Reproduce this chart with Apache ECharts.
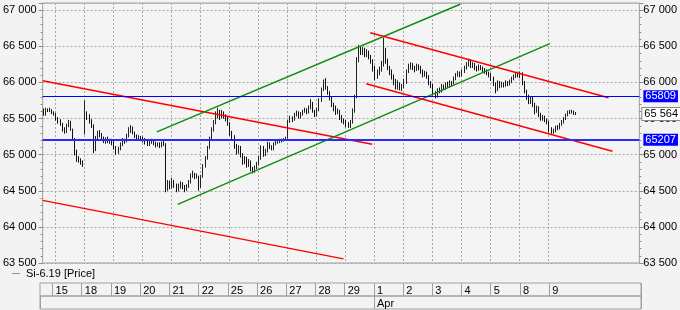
<!DOCTYPE html>
<html><head><meta charset="utf-8">
<script src="https://cdn.jsdelivr.net/npm/echarts@6/dist/echarts.min.js"></script>
<style>html,body{margin:0;padding:0;background:#f3f3f3}#c{width:680px;height:310px}</style>
</head><body><div id="c"></div>
<script>
// ---------- DATA ----------
const seriesName = 'Si-6.19 [Price]';
const sessionHours = ['10:00','11:00','12:00','13:00','14:00','15:00','16:00','17:00','18:00','19:00','20:00','21:00','22:00','23:00'];
const tradingDays = ['2019-03-14','2019-03-15','2019-03-18','2019-03-19','2019-03-20','2019-03-21','2019-03-22','2019-03-25','2019-03-26','2019-03-27','2019-03-28','2019-03-29','2019-04-01','2019-04-02','2019-04-03','2019-04-04','2019-04-05','2019-04-08','2019-04-09'];
const dayTickLabels = ['','15','18','19','20','21','22','25','26','27','28','29','1','2','3','4','5','8','9'];
const monthTickLabels = ['','','','','','','','','','','','','Apr','','','','','',''];
const futureSlots = 30;

// [open, close, low, high]
const mar14 = [[65600,65560,65540,65640],[65560,65620,65540,65650],[65620,65610,65590,65640],[65610,65620,65590,65650],[65620,65580,65560,65630],[65580,65560,65540,65600]];
const mar15 = [[65560,65500,65470,65580],[65500,65470,65430,65520],[65470,65420,65400,65490],[65420,65350,65320,65440],[65350,65310,65290,65380],[65310,65400,65300,65430],[65400,65460,65380,65480],[65460,65350,65330,65470],[65350,65220,65190,65360],[65220,65050,64990,65230],[65050,64950,64900,65070],[64950,64920,64890,64980],[64920,64900,64860,64950],[64900,64860,64830,64920]];
const mar18 = [[65300,65550,65280,65750],[65550,65520,65480,65600],[65520,65460,65430,65560],[65460,65400,65370,65490],[65400,65080,65020,65420],[65080,65230,65050,65260],[65230,65300,65200,65330],[65300,65270,65240,65340],[65270,65220,65190,65300],[65220,65200,65160,65250],[65200,65210,65150,65240],[65210,65190,65160,65250],[65190,65200,65150,65220],[65200,65170,65130,65220]];
const mar19 = [[65170,65100,65070,65190],[65100,65030,65000,65120],[65030,65080,65010,65110],[65080,65150,65060,65170],[65150,65200,65120,65230],[65200,65180,65150,65220],[65180,65260,65170,65290],[65260,65340,65240,65380],[65340,65380,65300,65410],[65380,65300,65280,65390],[65300,65260,65230,65320],[65260,65220,65190,65280],[65220,65250,65200,65270],[65250,65230,65200,65260]];
const mar20 = [[65230,65200,65170,65250],[65200,65180,65140,65230],[65180,65150,65120,65200],[65150,65170,65120,65190],[65170,65200,65150,65220],[65200,65160,65130,65210],[65160,65130,65100,65180],[65130,65150,65110,65170],[65150,65120,65090,65170],[65120,65160,65100,65180],[65160,65150,65120,65190],[65150,64560,64480,65160],[64560,64600,64500,64650],[64600,64560,64520,64640]];
const mar21 = [[64560,64620,64530,64680],[64620,64580,64540,64650],[64580,64520,64480,64600],[64520,64560,64490,64600],[64560,64600,64530,64630],[64600,64550,64520,64620],[64550,64520,64480,64580],[64520,64560,64500,64590],[64560,64620,64540,64650],[64620,64700,64600,64740],[64700,64720,64680,64780],[64720,64690,64660,64750],[64690,64700,64670,64740],[64700,64560,64500,64710]];
const mar22 = [[64560,64700,64540,64720],[64700,64850,64680,64870],[64850,64950,64820,64980],[64950,65100,64930,65120],[65100,65220,65080,65250],[65220,65350,65200,65380],[65350,65450,65320,65480],[65450,65560,65420,65600],[65560,65600,65500,65650],[65600,65520,65480,65620],[65520,65580,65500,65620],[65580,65540,65500,65600],[65540,65500,65460,65560],[65500,65430,65400,65520]];
const mar25 = [[65430,65300,65260,65450],[65300,65250,65200,65330],[65250,65120,65080,65270],[65120,65050,65000,65150],[65050,65100,65010,65130],[65100,65000,64960,65120],[65000,64900,64860,65020],[64900,64950,64870,64980],[64950,64850,64820,64970],[64850,64900,64830,64940],[64900,64800,64770,64920],[64800,64760,64740,64830],[64760,64820,64750,64850],[64820,64870,64800,64900]];
const mar26 = [[64870,64950,64850,64980],[64950,65100,64930,65130],[65100,65000,64970,65120],[65000,65050,64980,65080],[65050,65150,65030,65180],[65150,65100,65080,65170],[65100,65080,65060,65130],[65080,65150,65060,65170],[65150,65170,65130,65200],[65170,65180,65150,65210],[65180,65200,65160,65220],[65200,65190,65170,65220],[65190,65210,65180,65230],[65210,65230,65190,65250]];
const mar27 = [[65230,65460,65220,65480],[65460,65500,65440,65540],[65500,65480,65450,65530],[65480,65550,65470,65580],[65550,65580,65530,65610],[65580,65520,65500,65600],[65520,65560,65500,65590],[65560,65600,65540,65620],[65600,65620,65580,65650],[65620,65580,65560,65640],[65580,65650,65570,65680],[65650,65720,65630,65770],[65720,65600,65580,65730],[65600,65550,65520,65620]];
const mar28 = [[65550,65620,65530,65650],[65620,65750,65600,65780],[65750,65900,65730,65930],[65900,66000,65880,66040],[66000,65920,65900,66060],[65920,65860,65830,65950],[65860,65780,65750,65880],[65780,65700,65660,65800],[65700,65650,65600,65720],[65650,65580,65550,65680],[65580,65600,65560,65640],[65600,65520,65480,65620],[65520,65480,65440,65550],[65480,65450,65420,65500]];
const mar29 = [[65450,65420,65380,65480],[65420,65400,65370,65450],[65400,65450,65370,65480],[65450,65600,65430,65640],[65600,65800,65580,65830],[65800,66300,65780,66350],[66300,66480,66280,66520],[66480,66420,66380,66500],[66420,66460,66380,66490],[66460,66380,66350,66480],[66380,66420,66350,66460],[66420,66350,66320,66440],[66350,66300,66260,66380],[66300,66200,66150,66320]];
const apr01 = [[66200,66080,66030,66230],[66080,66120,66050,66180],[66120,66180,66100,66220],[66180,66250,66150,66300],[66250,66450,66220,66620],[66450,66300,66260,66480],[66300,66200,66170,66330],[66200,66150,66100,66230],[66150,66080,66040,66180],[66080,66000,65960,66110],[66000,65950,65900,66050],[65950,65980,65900,66030],[65980,65920,65890,66000],[65920,65940,65880,65980]];
const apr02 = [[65940,66000,65920,66050],[66000,66150,65980,66180],[66150,66220,66130,66260],[66220,66250,66180,66280],[66250,66200,66170,66270],[66200,66180,66140,66230],[66180,66230,66160,66260],[66230,66200,66170,66250],[66200,66150,66120,66230],[66150,66100,66070,66180],[66100,66130,66080,66160],[66130,66080,66050,66150],[66080,66000,65960,66100],[66000,65950,65920,66020]];
const apr03 = [[65950,65850,65820,65980],[65850,65800,65780,65880],[65800,65900,65790,65920],[65900,65880,65850,65930],[65880,65950,65860,65980],[65950,65920,65890,65970],[65920,65980,65900,66000],[65980,65950,65920,66010],[65950,66000,65930,66030],[66000,65980,65950,66020],[65980,66050,65970,66080],[66050,66100,66030,66130],[66100,66120,66080,66160],[66120,66100,66070,66150]];
const apr04 = [[66100,66150,66080,66180],[66150,66200,66130,66230],[66200,66250,66180,66280],[66250,66300,66220,66330],[66300,66220,66200,66320],[66220,66250,66200,66280],[66250,66200,66170,66270],[66200,66180,66150,66230],[66180,66220,66160,66250],[66220,66200,66170,66240],[66200,66170,66140,66220],[66170,66150,66120,66200],[66150,66130,66100,66180],[66130,66100,66070,66150]];
const apr05 = [[66100,66050,66020,66130],[66050,65980,65950,66080],[65980,65900,65850,66000],[65900,66000,65880,66030],[66000,65950,65920,66020],[65950,65980,65930,66010],[65980,65960,65930,66000],[65960,66000,65940,66030],[66000,65980,65950,66020],[65980,66010,65960,66040],[66010,66050,65990,66080],[66050,66080,66030,66110],[66080,66120,66060,66140],[66120,66100,66070,66150]];
const apr08 = [[66100,66120,66060,66150],[66120,66000,65960,66140],[66000,65880,65850,66020],[65880,65800,65760,65900],[65800,65750,65700,65830],[65750,65780,65700,65810],[65780,65700,65660,65800],[65700,65600,65560,65720],[65600,65650,65580,65680],[65650,65550,65520,65670],[65550,65500,65470,65580],[65500,65520,65470,65550],[65520,65480,65450,65540],[65480,65450,65420,65500]];
const apr09 = [[65450,65350,65310,65470],[65350,65300,65290,65380],[65300,65330,65290,65360],[65330,65380,65310,65400],[65380,65360,65340,65410],[65360,65420,65350,65440],[65420,65450,65400,65480],[65450,65500,65430,65520],[65500,65550,65480,65570],[65550,65580,65530,65610],[65580,65600,65560,65620],[65600,65590,65570,65620],[65590,65570,65550,65610],[65570,65564,65550,65590]];
const dayBars = [mar14,mar15,mar18,mar19,mar20,mar21,mar22,mar25,mar26,mar27,mar28,mar29,apr01,apr02,apr03,apr04,apr05,apr08,apr09];

// trend lines: [bar position, price]
const redLongUpper = [[0,66022],[159.1,65143]];
const redLongLower = [[0,64367],[145.2,63557]];
const greenUpper = [[55.1,65316],[201.5,67082]];
const greenLower = [[65.2,64312],[244.8,66537]];
const redShortUpper = [[158.1,66687],[273.1,65789]];
const redShortLower = [[156.2,65983],[275.0,65046]];

const resistanceLevel = 65809;
const supportLevel = 65207;
const lastPrice = 65564;

const yMin = 63500, yMax = 67100, yStep = 500;

// ---------- BUILD ----------
const categories = [], ohlc = [], dayStart = {}, monthStart = {};
tradingDays.forEach((d, k) => {
  const bars = dayBars[k];
  const hours = sessionHours.slice(sessionHours.length - bars.length);
  if (dayTickLabels[k]) dayStart[categories.length] = dayTickLabels[k];
  if (monthTickLabels[k]) monthStart[categories.length] = monthTickLabels[k];
  bars.forEach((b, j) => { categories.push(d + ' ' + hours[j]); ohlc.push(b); });
});
for (let j = 0; j < futureSlots; j++) categories.push('next-' + j);
const totalSlots = categories.length;

const FONT = '"Liberation Sans", Arial, sans-serif';
const fmt = v => { const t = Math.floor(v / 1000), r = String(v % 1000).padStart(3, '0'); return t + ' ' + r; };

function trend(data, color) {
  return { type: 'line', xAxisIndex: 1, yAxisIndex: 0, data: data, symbol: 'none', silent: true,
    lineStyle: { color: color, width: 1.5 }, z: 4 };
}

const chart = echarts.init(document.getElementById('c'));
chart.setOption({
  animation: false,
  backgroundColor: '#f3f3f3',
  textStyle: { fontFamily: FONT },
  grid: [
    { left: 40, right: 39, top: 3, height: 260, show: true, borderColor: '#a0a0a0', borderWidth: 1, backgroundColor: '#f4f4f4' },
    { left: 40, right: 39, top: 283, height: 13, show: true, borderColor: '#a0a0a0', borderWidth: 1, backgroundColor: 'transparent' },
    { left: 40, right: 39, top: 296, height: 13, show: true, borderColor: '#a0a0a0', borderWidth: 1, backgroundColor: 'transparent' }
  ],
  legend: {
    left: 12, top: 268, padding: 0, selectedMode: false, itemWidth: 8, itemHeight: 1, itemGap: 5,
    data: [{ name: seriesName, icon: 'path://M0 0H10V1H0Z', itemStyle: { color: '#777', borderWidth: 0 } }],
    textStyle: { color: '#000', fontSize: 11, fontFamily: FONT, padding: [0, 0, 0, 1] }
  },
  xAxis: [
    { type: 'category', gridIndex: 0, data: categories, boundaryGap: true,
      axisLine: { show: false }, axisTick: { show: false }, axisLabel: { show: false },
      splitLine: { show: true, interval: i => dayStart[i] !== undefined, lineStyle: { color: '#a8a8a8', type: [2, 2], width: 1 } } },
    { type: 'value', gridIndex: 0, min: 0, max: totalSlots, show: false },
    { type: 'category', gridIndex: 1, data: categories, position: 'top', boundaryGap: true,
      axisLine: { show: false }, axisTick: { show: false },
      splitLine: { show: true, interval: i => dayStart[i] !== undefined, lineStyle: { color: '#a0a0a0', width: 1 } },
      axisLabel: { inside: true, interval: i => dayStart[i] !== undefined, formatter: (v, i) => dayStart[i] || '',
        align: 'left', margin: 2, padding: [0, 0, 0, 2], color: '#000', fontSize: 11, fontFamily: FONT } },
    { type: 'category', gridIndex: 2, data: categories, position: 'top', boundaryGap: true,
      axisLine: { show: false }, axisTick: { show: false },
      splitLine: { show: true, interval: i => i === 0 || monthStart[i] !== undefined, lineStyle: { color: '#a0a0a0', width: 1 } },
      axisLabel: { inside: true, interval: i => monthStart[i] !== undefined, formatter: (v, i) => monthStart[i] || '',
        align: 'left', margin: 2, padding: [0, 0, 0, 2], color: '#000', fontSize: 11, fontFamily: FONT } }
  ],
  yAxis: [
    { type: 'value', gridIndex: 0, position: 'left', min: yMin, max: yMax, interval: yStep,
      axisLine: { show: false },
      axisTick: { show: true, length: 4, lineStyle: { color: '#888' } },
      minorTick: { show: true, splitNumber: 5, length: 2, lineStyle: { color: '#888' } },
      axisLabel: { showMaxLabel: false, formatter: fmt, color: '#000', fontSize: 11, margin: 6, fontFamily: FONT },
      splitLine: { show: true, lineStyle: { color: '#a8a8a8', type: [2, 2], width: 1 } } },
    { type: 'value', gridIndex: 0, position: 'right', min: yMin, max: yMax, interval: yStep,
      axisLine: { show: false },
      axisTick: { show: true, length: 4, lineStyle: { color: '#888' } },
      minorTick: { show: true, splitNumber: 5, length: 2, lineStyle: { color: '#888' } },
      axisLabel: { showMaxLabel: false, formatter: fmt, color: '#000', fontSize: 11, margin: 4, fontFamily: FONT },
      splitLine: { show: false } },
    { type: 'value', gridIndex: 1, show: false },
    { type: 'value', gridIndex: 2, show: false }
  ],
  series: [
    { name: seriesName, type: 'candlestick', xAxisIndex: 0, yAxisIndex: 0, data: ohlc, barWidth: 1,
      itemStyle: { color: '#ffffff', color0: '#111', borderColor: '#222', borderColor0: '#111', borderWidth: 1 },
      z: 3,
      markLine: { symbol: ['none', 'none'], silent: true, animation: false, z: 5,
        data: [
          { yAxis: resistanceLevel, lineStyle: { color: '#0000ff', width: 1, type: 'solid' },
            label: { show: true, position: 'end', formatter: String(resistanceLevel), backgroundColor: '#0000ff', color: '#fff', padding: [1, 2, 0, 2], distance: 4, fontSize: 11, fontFamily: FONT } },
          { yAxis: supportLevel, lineStyle: { color: '#2a2aff', width: 2, type: 'solid' },
            label: { show: true, position: 'end', formatter: String(supportLevel), backgroundColor: '#0000ff', color: '#fff', padding: [1, 2, 0, 2], distance: 4, fontSize: 11, fontFamily: FONT } },
          { yAxis: lastPrice, lineStyle: { color: 'rgba(0,0,0,0)', width: 0 },
            label: { show: true, position: 'end', formatter: fmt(lastPrice), backgroundColor: '#fff', borderColor: '#888', borderWidth: 1, color: '#000', padding: [1, 2, 0, 2], distance: 3, fontSize: 11, fontFamily: FONT } }
        ] } },
    trend(redLongUpper, '#ff0000'),
    trend(redLongLower, '#ff0000'),
    trend(greenUpper, '#108c10'),
    trend(greenLower, '#108c10'),
    trend(redShortUpper, '#ff0000'),
    trend(redShortLower, '#ff0000')
  ]
});
</script></body></html>
